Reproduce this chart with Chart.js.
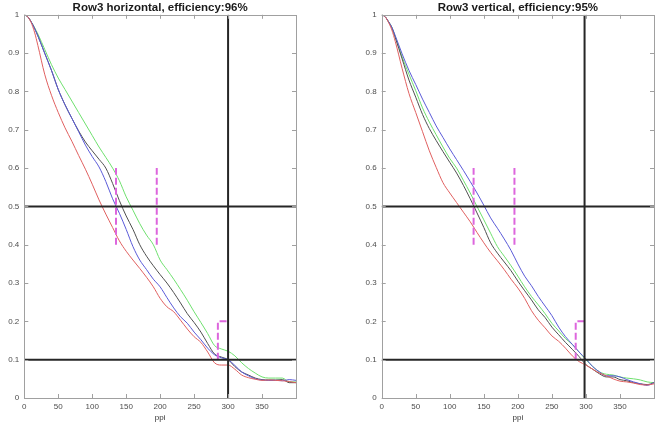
<!DOCTYPE html>
<html>
<head>
<meta charset="utf-8">
<script src="https://cdn.jsdelivr.net/npm/chart.js@4.4.1/dist/chart.umd.min.js"></script>
<style>
  body { margin: 0; background: #fff; width: 660px; height: 423px; position: relative; overflow: hidden; }
  .panel { position: absolute; top: 0; width: 330px; height: 423px; }
</style>
</head>
<body>
<div class="panel" style="left:0"><canvas id="hChart"></canvas></div>
<div class="panel" style="left:330px"><canvas id="vChart"></canvas></div>
<script>
// ppi sample positions (shared by all curves)
const ppi = [0, 5, 10, 15, 20, 30, 40, 50, 60, 70, 80, 90, 100, 110, 120,
  130, 140, 150, 160, 170, 180, 190, 200, 210, 220,
  230, 240, 250, 260, 270, 280, 290, 300, 310, 320,
  330, 340, 350, 360, 370, 380, 390, 400];

// Row3 horizontal
const hRed = [1, 0.995, 0.98, 0.955, 0.92, 0.845, 0.79, 0.745, 0.705, 0.67, 0.633, 0.597, 0.558, 0.517, 0.48,
  0.445, 0.41, 0.383, 0.36, 0.338, 0.315, 0.29, 0.26, 0.238, 0.225,
  0.203, 0.18, 0.16, 0.145, 0.12, 0.092, 0.086, 0.086, 0.075, 0.06,
  0.053, 0.049, 0.046, 0.047, 0.046, 0.045, 0.043, 0.04];
const hBlue = [1, 0.995, 0.982, 0.965, 0.945, 0.9, 0.855, 0.805, 0.765, 0.73, 0.695, 0.66, 0.63, 0.603, 0.565,
  0.52, 0.482, 0.44, 0.395, 0.36, 0.335, 0.31, 0.29, 0.262, 0.235,
  0.212, 0.195, 0.172, 0.152, 0.13, 0.113, 0.105, 0.1, 0.085, 0.068,
  0.058, 0.05, 0.047, 0.046, 0.046, 0.045, 0.048, 0.046];
const hBlack = [1, 0.995, 0.982, 0.965, 0.945, 0.9, 0.855, 0.805, 0.765, 0.73, 0.697, 0.668, 0.645, 0.623, 0.6,
  0.56, 0.515, 0.475, 0.44, 0.4, 0.37, 0.345, 0.322, 0.3, 0.275,
  0.248, 0.22, 0.197, 0.172, 0.142, 0.115, 0.107, 0.1, 0.082, 0.068,
  0.06, 0.052, 0.048, 0.047, 0.047, 0.048, 0.04, 0.04];
const hGreen = [1, 0.995, 0.982, 0.967, 0.95, 0.91, 0.87, 0.835, 0.805, 0.775, 0.745, 0.715, 0.685, 0.655, 0.628,
  0.6, 0.567, 0.525, 0.49, 0.455, 0.425, 0.4, 0.36, 0.335, 0.31,
  0.283, 0.255, 0.225, 0.197, 0.168, 0.137, 0.128, 0.122, 0.11, 0.092,
  0.077, 0.065, 0.055, 0.052, 0.052, 0.052, 0.042, 0.042];

// Row3 vertical
const vRed = [1, 0.995, 0.98, 0.96, 0.93, 0.86, 0.795, 0.745, 0.695, 0.645, 0.602, 0.562, 0.535, 0.51, 0.485,
  0.46, 0.432, 0.405, 0.38, 0.358, 0.335, 0.31, 0.287, 0.26, 0.228,
  0.203, 0.183, 0.162, 0.148, 0.13, 0.11, 0.095, 0.086, 0.075, 0.065,
  0.058, 0.05, 0.044, 0.042, 0.039, 0.035, 0.034, 0.037];
const vBlue = [1, 0.995, 0.982, 0.967, 0.945, 0.898, 0.855, 0.818, 0.78, 0.745, 0.71, 0.68, 0.65, 0.622, 0.594,
  0.565, 0.535, 0.503, 0.47, 0.443, 0.415, 0.385, 0.35, 0.318, 0.293,
  0.265, 0.24, 0.215, 0.185, 0.16, 0.14, 0.12, 0.102, 0.082, 0.068,
  0.058, 0.058, 0.055, 0.048, 0.042, 0.037, 0.033, 0.04];
const vBlack = [1, 0.995, 0.982, 0.966, 0.94, 0.885, 0.83, 0.785, 0.74, 0.703, 0.672, 0.643, 0.615, 0.587, 0.555,
  0.52, 0.483, 0.445, 0.405, 0.378, 0.355, 0.332, 0.305, 0.28, 0.256,
  0.23, 0.21, 0.185, 0.165, 0.145, 0.127, 0.108, 0.087, 0.075, 0.063,
  0.055, 0.055, 0.048, 0.045, 0.04, 0.037, 0.035, 0.04];
const vGreen = [1, 0.995, 0.982, 0.967, 0.943, 0.89, 0.845, 0.802, 0.757, 0.72, 0.687, 0.655, 0.625, 0.6, 0.568,
  0.535, 0.5, 0.465, 0.43, 0.395, 0.37, 0.345, 0.318, 0.29, 0.265,
  0.243, 0.22, 0.195, 0.175, 0.155, 0.14, 0.12, 0.1, 0.082, 0.068,
  0.062, 0.06, 0.055, 0.052, 0.05, 0.047, 0.042, 0.04];

// axes and marker lines
const xTicks = [0, 50, 100, 150, 200, 250, 300, 350];
const yTicks = [0, 0.1, 0.2, 0.3, 0.4, 0.5, 0.6, 0.7, 0.8, 0.9, 1];
const xRange = [0, 400];
const limitY = [0.5, 0.1];
const hLimitX = 300;
const vLimitX = 298;
const markX = [135, 195];
const markY = [0.4, 0.6];
const bracketX = [285, 300];
const bracketY = [0.1, 0.2];

const FONT = "'Liberation Sans', Arial, sans-serif";

function curve(ys, color) {
  return {
    data: ppi.map((x, i) => ({ x: x, y: ys[i] })),
    borderColor: color,
    borderWidth: 1,
    pointRadius: 0,
    cubicInterpolationMode: 'monotone'
  };
}

function refLine(points, color, width, dash) {
  return {
    data: points,
    borderColor: color,
    borderWidth: width,
    borderDash: dash || [],
    pointRadius: 0,
    tension: 0
  };
}

// box + inward ticks like matlab
const boxPlugin = {
  id: 'box',
  afterDraw(chart) {
    const { ctx, chartArea: a, scales } = chart;
    ctx.save();
    ctx.strokeStyle = '#a0a0a0';
    ctx.lineWidth = 1;
    ctx.strokeRect(Math.round(a.left) + 0.5, Math.round(a.top) + 0.5,
      Math.round(a.right - a.left), Math.round(a.bottom - a.top));
    ctx.beginPath();
    xTicks.forEach(t => {
      const px = Math.round(scales.x.getPixelForValue(t)) + 0.5;
      ctx.moveTo(px, a.bottom); ctx.lineTo(px, a.bottom - 4);
      ctx.moveTo(px, a.top); ctx.lineTo(px, a.top + 4);
    });
    yTicks.forEach(t => {
      const py = Math.round(scales.y.getPixelForValue(t)) + 0.5;
      ctx.moveTo(a.left, py); ctx.lineTo(a.left + 4, py);
      ctx.moveTo(a.right, py); ctx.lineTo(a.right - 4, py);
    });
    ctx.stroke();
    ctx.restore();
  }
};

function makeChart(id, title, series, limitX, yWidth, padRight) {
  const datasets = [
    refLine([{ x: limitX, y: 0 }, { x: limitX, y: 1 }], '#262626', 2),
    ...limitY.map(v => refLine([{ x: xRange[0], y: v }, { x: xRange[1], y: v }], '#262626', 2)),
    ...markX.map(m => refLine([{ x: m, y: markY[0] }, { x: m, y: markY[1] }], '#dd66dd', 2, [7, 3])),
    refLine([{ x: bracketX[0], y: bracketY[0] }, { x: bracketX[0], y: bracketY[1] }, { x: bracketX[1], y: bracketY[1] }], '#dd66dd', 2, [7, 3]),
    curve(series[0], '#e06060'),
    curve(series[1], '#5a5ad8'),
    curve(series[2], '#505050'),
    curve(series[3], '#6ee06e')
  ];

  return new Chart(document.getElementById(id), {
    type: 'line',
    data: { datasets },
    plugins: [boxPlugin],
    options: {
      responsive: true,
      maintainAspectRatio: false,
      animation: false,
      layout: { padding: { left: 0, right: padRight, top: 0, bottom: 0 } },
      plugins: {
        legend: { display: false },
        tooltip: { enabled: false },
        title: {
          display: true,
          text: title,
          fullSize: false,
          color: '#1a1a1a',
          font: { family: FONT, size: 11.5, weight: 'bold', lineHeight: 1.2 },
          padding: { top: 1, bottom: 0 }
        }
      },
      scales: {
        x: {
          type: 'linear',
          min: xRange[0],
          max: xRange[1],
          grid: { display: false, drawTicks: false },
          border: { display: false },
          afterBuildTicks: s => { s.ticks = xTicks.map(v => ({ value: v })); },
          afterFit: s => { s.height = 25; },
          ticks: {
            padding: 4,
            maxRotation: 0,
            color: '#4d4d4d',
            font: { family: FONT, size: 8 }
          },
          title: {
            display: true,
            text: 'ppi',
            color: '#333',
            padding: 0,
            font: { family: FONT, size: 8 }
          }
        },
        y: {
          type: 'linear',
          min: 0,
          max: 1,
          grid: { display: false, drawTicks: false },
          border: { display: false },
          afterBuildTicks: s => { s.ticks = yTicks.map(v => ({ value: v })); },
          afterFit: s => { s.width = yWidth; },
          ticks: {
            padding: 5,
            color: '#4d4d4d',
            font: { family: FONT, size: 8 },
            callback: v => String(Math.round(v * 10) / 10)
          }
        }
      }
    }
  });
}

makeChart('hChart', 'Row3 horizontal, efficiency:96%', [hRed, hBlue, hBlack, hGreen], hLimitX, 24.3, 34);
makeChart('vChart', 'Row3 vertical, efficiency:95%', [vRed, vBlue, vBlack, vGreen], vLimitX, 51.7, 6);
</script>
</body>
</html>
